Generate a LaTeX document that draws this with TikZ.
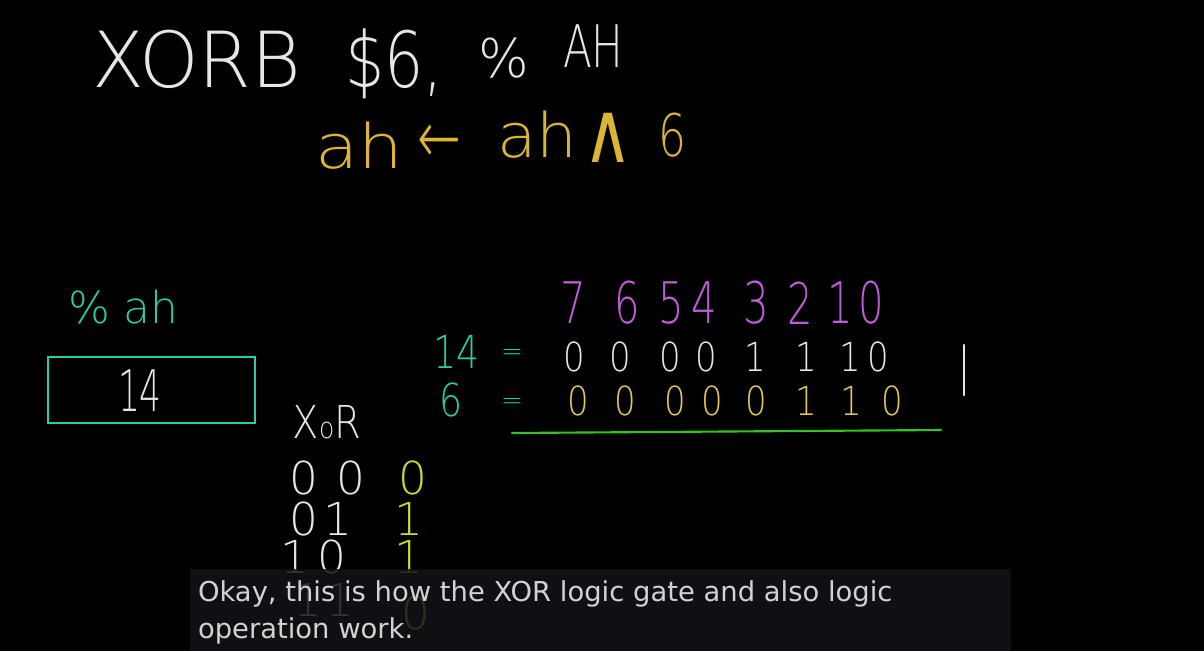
\documentclass[tikz,border=0pt]{standalone}
\usepackage{fontspec}
\setmainfont{DejaVu Sans}
\newfontfamily\hwf{DejaVu Sans ExtraLight}
\definecolor{chalk}{HTML}{E6E6E6}
\definecolor{ylw}{HTML}{DDB535}
\definecolor{bity}{HTML}{E2C858}
\definecolor{lime}{HTML}{C8DC28}
\definecolor{teal}{HTML}{28CCA6}
\definecolor{purp}{HTML}{C05CD8}
\definecolor{grn}{HTML}{34C422}
\definecolor{capbg}{HTML}{131318}
\definecolor{captx}{HTML}{D2D2D2}
\newcommand\fsz[1]{\fontsize{#1pt}{#1pt}\selectfont}
\tikzset{
  hw/.style={inner sep=0pt, outer sep=0pt, font=\hwf},
  chalkbox/.style={draw=teal, line width=1.6pt},
}
\begin{document}
\begin{tikzpicture}[x=0.75pt,y=-0.75pt]
\useasboundingbox (0,0) rectangle (1204,651);
\fill[black] (0,0) rectangle (1204,651);

% title line
\node[hw, anchor=base west, text=chalk] (xorb) at (92,87) {\fsz{58}\scalebox{0.98}[1]{XORB}};
\node[hw, anchor=base west, text=chalk] (dollar) at (345,87) {\fsz{58}\scalebox{0.8}[1]{\$6,}};
\node[hw, anchor=base west, text=chalk] (pct) at (478,77) {\fsz{40}\%};
\node[hw, anchor=base west, text=chalk] (ah) at (563,67) {\fsz{44}\scalebox{0.72}[1]{AH}};

% ah <- ah ^ 6
\node[hw, anchor=base west, text=ylw] (ah1) at (315,168) {\fsz{46}\scalebox{1.15}[1]{ah}};
\node[hw, text=ylw] (arr) at (439,144) {\fsz{56}\scalebox{0.7}[1]{←}};
\node[hw, anchor=base west, text=ylw] (ah2) at (497,157) {\fsz{46}\scalebox{1.05}[1]{ah}};
\node[inner sep=0pt, outer sep=0pt, text=ylw] (wedge) at (608,138) {\fsz{44}\scalebox{1.15}[1.45]{∧}};
\node[hw, anchor=base west, text=ylw] (six) at (658,156) {\fsz{44}\scalebox{0.75}[1]{6}};

% % ah register
\node[hw, anchor=base west, text=teal] (regname) at (68,323) {\fsz{33}\% ah};
\node[chalkbox, minimum width=207*0.75pt, minimum height=66*0.75pt, inner sep=0pt] (reg) at (151.5,390) {};
\node[hw, text=chalk] (regval) at (140,391) {\fsz{43}\scalebox{0.6}[1]{14}};

% bit indices
\foreach \d/\x [count=\i] in {7/573,6/627,5/671,4/704,3/756,2/800,1/840,0/871}
  \node[hw, text=purp] (idx\i) at (\x,303) {\fsz{43}\scalebox{0.7}[1]{\d}};

% row 14
\node[hw, text=teal] (n14) at (457,352) {\fsz{34}\scalebox{0.8}[1]{14}};
\node[hw, text=teal] (eqa) at (512,355) {\fsz{20}=};
\foreach \d/\x [count=\i] in {0/574,0/620,0/670,0/706,1/755,1/806,1/850,0/878}
  \node[hw, text=chalk] (a\i) at (\x,357) {\fsz{30}\scalebox{0.85}[1]{\d}};

% row 6
\node[hw, text=teal] (n6) at (451,400) {\fsz{34}\scalebox{0.8}[1]{6}};
\node[hw, text=teal] (eqb) at (512,404) {\fsz{20}=};
\foreach \d/\x [count=\i] in {0/578,0/625,0/675,0/712,0/756,1/806,1/851,0/892}
  \node[hw, text=bity] (b\i) at (\x,401) {\fsz{30}\scalebox{0.85}[1]{\d}};

% vertical bar and result line
\coordinate (vbt) at (964,345);
\coordinate (vbb) at (964,395);
\draw[chalk, line width=1.6pt, line cap=round] (vbt) -- (vbb);
\coordinate (gl) at (512,433);
\coordinate (gr) at (941,430);
\draw[grn, line width=1.6pt, line cap=round] (gl) -- (gr);

% XOR truth table
\node[hw, text=chalk] (xorlbl) at (327,422) {\fsz{34}\scalebox{0.85}[1]{X\raisebox{0pt}{\fsz{22}o}R}};
\node[hw, text=chalk] (t11) at (304,478) {\fsz{34}0};
\node[hw, text=chalk] (t12) at (351,478) {\fsz{34}0};
\node[hw, text=lime]  (t13) at (413,478) {\fsz{34}0};
\node[hw, text=chalk] (t21) at (304,519) {\fsz{34}0};
\node[hw, text=chalk] (t22) at (338,519) {\fsz{34}1};
\node[hw, text=lime]  (t23) at (409,519) {\fsz{34}1};
\node[hw, text=chalk] (t31) at (295,557) {\fsz{34}1};
\node[hw, text=chalk] (t32) at (332,557) {\fsz{34}0};
\node[hw, text=lime]  (t33) at (409,557) {\fsz{34}1};
\node[hw, text=chalk] (t41) at (308,600) {\fsz{34}1};
\node[hw, text=chalk] (t42) at (340,600) {\fsz{34}1};
\node[hw, text=lime]  (t43) at (416,613) {\fsz{34}0};

% caption
\fill[capbg, opacity=0.85] (190,569) rectangle (1011,651);
\node[inner sep=0pt, outer sep=0pt, anchor=base west, text=captx] (cap1) at (198,601) {\fsz{20.55}Okay, this is how the XOR logic gate and also logic};
\node[inner sep=0pt, outer sep=0pt, anchor=base west, text=captx] (cap2) at (198,638) {\fsz{20.55}operation work.};
\end{tikzpicture}
\end{document}
